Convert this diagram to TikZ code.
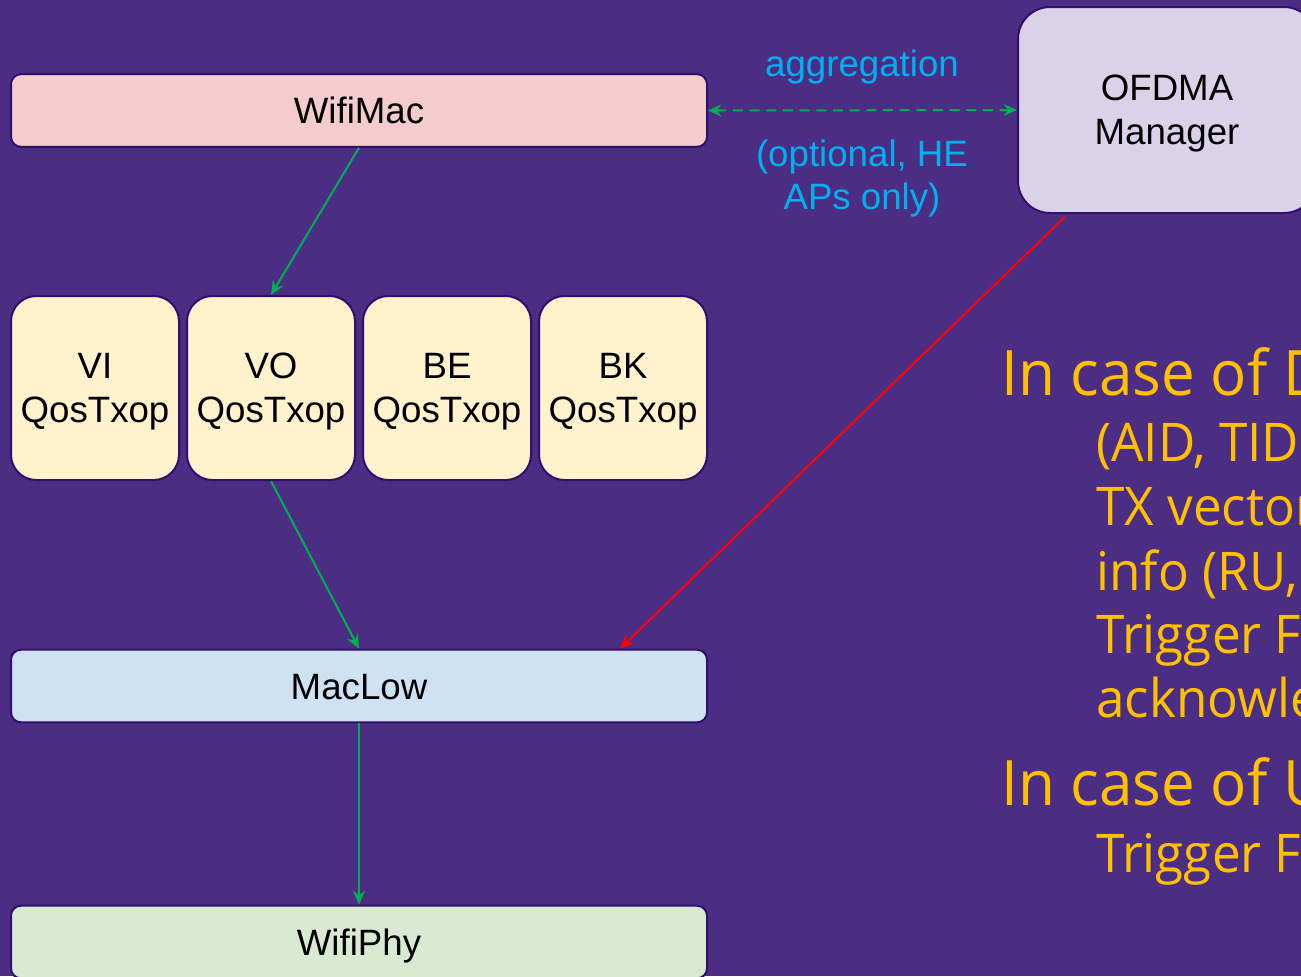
\documentclass[tikz,border=0pt]{standalone}
\usepackage{fontspec}
\setmainfont{Liberation Sans}
\newfontfamily\notefont[FakeStretch=0.96]{Open Sans}
\usetikzlibrary{arrows.meta,calc}

\definecolor{bgpurple}{RGB}{75,46,131}
\definecolor{edgepurple}{RGB}{50,14,108}
\definecolor{macpink}{RGB}{244,204,204}
\definecolor{ofdmalilac}{RGB}{217,210,233}
\definecolor{qoscream}{RGB}{255,242,204}
\definecolor{lowblue}{RGB}{207,226,243}
\definecolor{phygreen}{RGB}{217,234,211}
\definecolor{flowgreen}{RGB}{0,176,80}
\definecolor{labelcyan}{RGB}{0,176,240}
\definecolor{noteyellow}{RGB}{255,192,0}

\tikzset{
  boxtext/.style={font=\fontsize{27.5}{33}\selectfont, text=black, inner sep=0pt, align=center},
  twolines/.style={text depth=-1.7pt},
  layer/.style={boxtext, text height=19.7pt, text depth=0pt, draw=edgepurple, line width=1.5pt,
    minimum width=522pt, minimum height=54.5pt, rounded corners=7.5pt},
  queue/.style={boxtext, twolines, draw=edgepurple, line width=1.5pt, fill=qoscream,
    minimum width=126pt, minimum height=138pt, rounded corners=19pt},
  manager/.style={boxtext, twolines, draw=edgepurple, line width=1.5pt, fill=ofdmalilac,
    minimum width=223.5pt, minimum height=154.5pt, rounded corners=24pt},
  flow/.style={draw=flowgreen, line width=1.5pt, -{Stealth[length=10.5pt,width=9pt]}},
  ctrl/.style={draw=red, line width=1.5pt, -{Stealth[length=10.5pt,width=9pt]}},
  aggr/.style={draw=flowgreen, line width=1.5pt, dash pattern=on 7.5pt off 5pt,
    {Stealth[length=10pt,width=9pt]}-{Stealth[length=10pt,width=9pt]}},
  cyanlabel/.style={font=\fontsize{27.5}{33}\selectfont, text=labelcyan, inner sep=0pt, anchor=base},
  headnote/.style={font=\notefont\fontsize{47}{56}\selectfont, text=noteyellow, inner sep=0pt, anchor=base west},
  subnote/.style={font=\notefont\fontsize{40}{48}\selectfont, text=noteyellow, inner sep=0pt, anchor=base west}
}

\begin{document}
\begin{tikzpicture}[x=0.75pt,y=-0.75pt]
  \useasboundingbox (0,0) rectangle (1301,976);
  \clip (0,0) rectangle (1301,976);
  \fill[bgpurple] (0,0) rectangle (1301,976);

  % MAC layers
  \node[layer, fill=macpink] (wifimac) at (359,110.5) {WifiMac};
  \node[layer, fill=lowblue] (maclow) at (359,686) {MacLow};
  \node[layer, fill=phygreen] (wifiphy) at (359,942) {WifiPhy};

  % per-AC queues
  \node[queue] (vi) at (95,388) {VI\\QosTxop};
  \node[queue] (vo) at (271,388) {VO\\QosTxop};
  \node[queue] (be) at (447,388) {BE\\QosTxop};
  \node[queue] (bk) at (623,388) {BK\\QosTxop};

  % scheduler
  \node[manager] (ofdma) at (1167,110) {OFDMA\\Manager};

  % data path
  \draw[flow] (wifimac.south) -- (vo.north);
  \draw[flow] (vo.south) -- (maclow.north);
  \draw[flow] (maclow.south) -- (wifiphy.north);

  % aggregation link and its labels
  \draw[aggr] (wifimac.east) -- (ofdma.west);
  \node[cyanlabel] (agglabel) at (862,76) {aggregation};
  \node[cyanlabel] (optlabel) at (862,166) {(optional, HE};
  \node[cyanlabel] (aplabel) at (862,209) {APs only)};

  % scheduling decisions handed to MacLow
  \draw[ctrl] ([xshift=36pt,yshift=-2pt]ofdma.south west) -- ([xshift=195.75pt]maclow.north);

  % notes
  \node[headnote] (dlhead) at (1001,395) {In case of D};
  \node[subnote] (dl1) at (1096,461) {(AID, TID};
  \node[subnote] (dl2) at (1096,525) {TX vector};
  \node[subnote] (dl3) at (1096,590) {info (RU,};
  \node[subnote] (dl4) at (1096,653) {Trigger F};
  \node[subnote] (dl5) at (1096,717) {acknowle};
  \node[headnote] (ulhead) at (1001,805) {In case of U};
  \node[subnote] (ul1) at (1096,872) {Trigger F};
\end{tikzpicture}
\end{document}
